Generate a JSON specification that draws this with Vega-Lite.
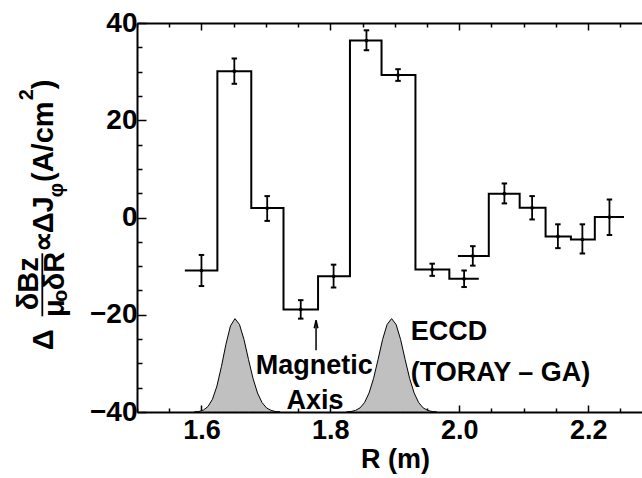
{
  "$schema": "https://vega.github.io/schema/vega-lite/v6.json",
  "width": 505,
  "height": 389,
  "autosize": {"type": "none"},
  "padding": {"left": 137, "top": 23, "right": 0, "bottom": 66},
  "config": {
    "view": {"stroke": null},
    "axis": {
      "grid": false,
      "domainColor": "black",
      "domainWidth": 2,
      "tickColor": "black",
      "tickWidth": 1.5,
      "labelColor": "black",
      "labelFont": "Liberation Sans",
      "labelFontWeight": "bold",
      "titleColor": "black",
      "titleFont": "Liberation Sans",
      "titleFontWeight": "bold"
    }
  },
  "datasets": {
    "eccd": [
      {"r": 1.589, "j": -40, "p": 1}, {"r": 1.596, "j": -39.9, "p": 1}, {"r": 1.603, "j": -39.6, "p": 1},
      {"r": 1.610, "j": -38.9, "p": 1}, {"r": 1.617, "j": -37.4, "p": 1}, {"r": 1.624, "j": -34.66, "p": 1},
      {"r": 1.631, "j": -30.65, "p": 1}, {"r": 1.638, "j": -26.06, "p": 1}, {"r": 1.645, "j": -22.3, "p": 1},
      {"r": 1.652, "j": -20.8, "p": 1}, {"r": 1.659, "j": -22.0, "p": 1}, {"r": 1.666, "j": -25.1, "p": 1},
      {"r": 1.673, "j": -29.2, "p": 1}, {"r": 1.680, "j": -33.1, "p": 1}, {"r": 1.687, "j": -36.1, "p": 1},
      {"r": 1.694, "j": -38.06, "p": 1}, {"r": 1.701, "j": -39.16, "p": 1}, {"r": 1.708, "j": -39.67, "p": 1},
      {"r": 1.715, "j": -39.9, "p": 1}, {"r": 1.722, "j": -40, "p": 1},
      {"r": 1.825, "j": -40, "p": 2}, {"r": 1.832, "j": -39.9, "p": 2}, {"r": 1.839, "j": -39.67, "p": 2},
      {"r": 1.846, "j": -39.16, "p": 2}, {"r": 1.853, "j": -38.06, "p": 2}, {"r": 1.860, "j": -36.1, "p": 2},
      {"r": 1.867, "j": -33.1, "p": 2}, {"r": 1.874, "j": -29.2, "p": 2}, {"r": 1.881, "j": -25.1, "p": 2},
      {"r": 1.888, "j": -22.0, "p": 2}, {"r": 1.895, "j": -20.8, "p": 2}, {"r": 1.902, "j": -22.0, "p": 2},
      {"r": 1.909, "j": -25.1, "p": 2}, {"r": 1.916, "j": -29.2, "p": 2}, {"r": 1.923, "j": -33.1, "p": 2},
      {"r": 1.930, "j": -36.1, "p": 2}, {"r": 1.937, "j": -38.06, "p": 2}, {"r": 1.944, "j": -39.16, "p": 2},
      {"r": 1.951, "j": -39.67, "p": 2}, {"r": 1.958, "j": -39.9, "p": 2}, {"r": 1.965, "j": -40, "p": 2}
    ],
    "steps": [
      {"r": 1.5742, "j": -10.9, "s": 1}, {"r": 1.6247, "j": 30.1, "s": 1}, {"r": 1.6773, "j": 1.95, "s": 1},
      {"r": 1.7273, "j": -18.9, "s": 1}, {"r": 1.7809, "j": -12.1, "s": 1}, {"r": 1.8304, "j": 36.4, "s": 1},
      {"r": 1.8794, "j": 29.3, "s": 1}, {"r": 1.9320, "j": -10.7, "s": 1}, {"r": 1.9846, "j": -12.6, "s": 1},
      {"r": 2.0303, "j": -12.6, "s": 1},
      {"r": 1.9979, "j": -7.9, "s": 2}, {"r": 2.0458, "j": 4.9, "s": 2}, {"r": 2.0937, "j": 2.0, "s": 2},
      {"r": 2.1339, "j": -3.9, "s": 2}, {"r": 2.1732, "j": -4.5, "s": 2}, {"r": 2.2103, "j": 0.1, "s": 2},
      {"r": 2.2556, "j": 0.1, "s": 2}
    ],
    "pts": [
      {"r": 1.600, "j": -10.9, "lo": -14.1, "hi": -7.7},
      {"r": 1.651, "j": 30.1, "lo": 27.5, "hi": 32.7},
      {"r": 1.702, "j": 1.95, "lo": -0.7, "hi": 4.4},
      {"r": 1.754, "j": -18.9, "lo": -20.8, "hi": -17.0},
      {"r": 1.805, "j": -12.1, "lo": -14.4, "hi": -9.7},
      {"r": 1.856, "j": 36.4, "lo": 34.4, "hi": 38.5},
      {"r": 1.905, "j": 29.3, "lo": 28.1, "hi": 30.5},
      {"r": 1.958, "j": -10.7, "lo": -12.0, "hi": -9.5},
      {"r": 2.0075, "j": -12.6, "lo": -14.3, "hi": -10.9},
      {"r": 2.021, "j": -7.9, "lo": -9.9, "hi": -5.9},
      {"r": 2.070, "j": 4.9, "lo": 2.9, "hi": 7.0},
      {"r": 2.113, "j": 2.0, "lo": -0.4, "hi": 4.4},
      {"r": 2.153, "j": -3.9, "lo": -6.3, "hi": -1.4},
      {"r": 2.191, "j": -4.5, "lo": -7.4, "hi": -1.4},
      {"r": 2.233, "j": 0.1, "lo": -3.6, "hi": 3.7}
    ]
  },
  "resolve": {"axis": {"x": "independent", "y": "independent"}},
  "layer": [
    {
      "data": {"name": "eccd"},
      "mark": {"type": "area", "fill": "#c0c0c0", "stroke": "black", "strokeWidth": 1, "fillOpacity": 1},
      "encoding": {
        "x": {
          "field": "r", "type": "quantitative",
          "scale": {"domain": [1.5, 2.2835], "nice": false, "zero": false},
          "axis": {
            "orient": "bottom",
            "values": [1.5, 1.55, 1.6, 1.65, 1.7, 1.75, 1.8, 1.85, 1.9, 1.95, 2.0, 2.05, 2.1, 2.15, 2.2, 2.25],
            "labelExpr": "abs(datum.value*5 - round(datum.value*5)) < 0.001 ? format(datum.value, '.1f') : ''",
            "tickSize": {"condition": {"test": "abs(datum.value*5 - round(datum.value*5)) < 0.001", "value": -7}, "value": -4},
            "labelFontSize": 27,
            "labelPadding": 12,
            "title": "R (m)",
            "titleFontSize": 27,
            "titleX": 258,
            "titleY": 55,
            "titleBaseline": "alphabetic",
            "titleAlign": "center"
          }
        },
        "y": {
          "field": "j", "type": "quantitative",
          "scale": {"domain": [-40, 40], "nice": false, "zero": false},
          "axis": {
            "orient": "left",
            "values": [-40, -35, -30, -25, -20, -15, -10, -5, 0, 5, 10, 15, 20, 25, 30, 35, 40],
            "labelExpr": "datum.value % 20 == 0 ? datum.label : ''",
            "tickSize": {"condition": {"test": "datum.value % 20 == 0", "value": -9}, "value": -5},
            "labelFontSize": 28,
            "labelPadding": 9,
            "title": null
          }
        },
        "y2": {"datum": -40},
        "detail": {"field": "p"}
      }
    },
    {
      "data": {"name": "steps"},
      "mark": {"type": "line", "interpolate": "step-after", "stroke": "black", "strokeWidth": 2},
      "encoding": {
        "x": {
          "field": "r", "type": "quantitative",
          "scale": {"domain": [1.5, 2.2835], "nice": false, "zero": false},
          "axis": {
            "orient": "top",
            "values": [1.5, 1.55, 1.6, 1.65, 1.7, 1.75, 1.8, 1.85, 1.9, 1.95, 2.0, 2.05, 2.1, 2.15, 2.2, 2.25],
            "labels": false,
            "tickSize": {"condition": {"test": "abs(datum.value*5 - round(datum.value*5)) < 0.001", "value": -7}, "value": -4},
            "title": null
          }
        },
        "y": {"field": "j", "type": "quantitative", "scale": {"domain": [-40, 40], "nice": false, "zero": false}, "axis": null},
        "detail": {"field": "s"}
      }
    },
    {
      "data": {"name": "pts"},
      "mark": {"type": "rule", "stroke": "black", "strokeWidth": 1.8},
      "encoding": {
        "x": {"field": "r", "type": "quantitative", "scale": {"domain": [1.5, 2.2835], "nice": false, "zero": false}, "axis": null},
        "y": {"field": "lo", "type": "quantitative", "scale": {"domain": [-40, 40], "nice": false, "zero": false}, "axis": null},
        "y2": {"field": "hi"}
      }
    },
    {
      "data": {"name": "pts"},
      "mark": {"type": "point", "shape": "M-1,0L1,0", "filled": false, "stroke": "black", "strokeWidth": 2, "size": 30, "opacity": 1},
      "encoding": {
        "x": {"field": "r", "type": "quantitative", "scale": {"domain": [1.5, 2.2835], "nice": false, "zero": false}, "axis": null},
        "y": {"field": "lo", "type": "quantitative", "scale": {"domain": [-40, 40], "nice": false, "zero": false}, "axis": null}
      }
    },
    {
      "data": {"name": "pts"},
      "mark": {"type": "point", "shape": "M-1,0L1,0", "filled": false, "stroke": "black", "strokeWidth": 2, "size": 30, "opacity": 1},
      "encoding": {
        "x": {"field": "r", "type": "quantitative", "scale": {"domain": [1.5, 2.2835], "nice": false, "zero": false}, "axis": null},
        "y": {"field": "hi", "type": "quantitative", "scale": {"domain": [-40, 40], "nice": false, "zero": false}, "axis": null}
      }
    },
    {
      "data": {"name": "pts"},
      "mark": {"type": "point", "shape": "circle", "filled": true, "fill": "black", "size": 14, "opacity": 1},
      "encoding": {
        "x": {"field": "r", "type": "quantitative", "scale": {"domain": [1.5, 2.2835], "nice": false, "zero": false}, "axis": null},
        "y": {"field": "j", "type": "quantitative", "scale": {"domain": [-40, 40], "nice": false, "zero": false}, "axis": null}
      }
    },
    {
      "data": {"values": [{"r": 1.7778, "j1": -27.3, "j2": -21.5}]},
      "mark": {"type": "rule", "stroke": "black", "strokeWidth": 1.5},
      "encoding": {
        "x": {"field": "r", "type": "quantitative", "scale": {"domain": [1.5, 2.2835], "nice": false, "zero": false}, "axis": null},
        "y": {"field": "j1", "type": "quantitative", "scale": {"domain": [-40, 40], "nice": false, "zero": false}, "axis": null},
        "y2": {"field": "j2"}
      }
    },
    {
      "data": {"values": [{"r": 1.7778, "j": -21.96}]},
      "mark": {"type": "point", "shape": "M-0.45,1L0,-1L0.45,1", "filled": false, "stroke": "black", "strokeWidth": 1.5, "size": 64, "opacity": 1},
      "encoding": {
        "x": {"field": "r", "type": "quantitative", "scale": {"domain": [1.5, 2.2835], "nice": false, "zero": false}, "axis": null},
        "y": {"field": "j", "type": "quantitative", "scale": {"domain": [-40, 40], "nice": false, "zero": false}, "axis": null}
      }
    },
    {
      "data": {"values": [
        {"r": 1.7752, "j": -32.1, "t": "Magnetic"},
        {"r": 1.776, "j": -39.4, "t": "Axis"}
      ]},
      "mark": {"type": "text", "font": "Liberation Sans", "fontWeight": "bold", "fontSize": 27, "align": "center", "baseline": "alphabetic", "fill": "black"},
      "encoding": {
        "x": {"field": "r", "type": "quantitative", "scale": {"domain": [1.5, 2.2835], "nice": false, "zero": false}, "axis": null},
        "y": {"field": "j", "type": "quantitative", "scale": {"domain": [-40, 40], "nice": false, "zero": false}, "axis": null},
        "text": {"field": "t"}
      }
    },
    {
      "data": {"values": [
        {"r": 1.9247, "j": -25.1, "t": "ECCD"},
        {"r": 1.9247, "j": -33.6, "t": "(TORAY – GA)"}
      ]},
      "mark": {"type": "text", "font": "Liberation Sans", "fontWeight": "bold", "fontSize": 27, "align": "left", "baseline": "alphabetic", "fill": "black"},
      "encoding": {
        "x": {"field": "r", "type": "quantitative", "scale": {"domain": [1.5, 2.2835], "nice": false, "zero": false}, "axis": null},
        "y": {"field": "j", "type": "quantitative", "scale": {"domain": [-40, 40], "nice": false, "zero": false}, "axis": null},
        "text": {"field": "t"}
      }
    },
    {
      "data": {"values": [
        {"r": 1.369, "j": -27.3, "t": "Δ"},
        {"r": 1.369, "j": -7.16, "t": "∝"},
        {"r": 1.369, "j": -3.25, "t": "ΔJ"},
        {"r": 1.369, "j": 7.3, "t": "(A/cm"},
        {"r": 1.369, "j": 26.36, "t": ")"},
        {"r": 1.3458, "j": -19.08, "t": "δBz"},
        {"r": 1.3868, "j": -20.46, "t": "μ"},
        {"r": 1.3868, "j": -14.97, "t": "δR"}
      ]},
      "mark": {"type": "text", "font": "Liberation Sans", "fontWeight": "bold", "fontSize": 29, "angle": 270, "align": "left", "baseline": "alphabetic", "fill": "black"},
      "encoding": {
        "x": {"field": "r", "type": "quantitative", "scale": {"domain": [1.5, 2.2835], "nice": false, "zero": false}, "axis": null},
        "y": {"field": "j", "type": "quantitative", "scale": {"domain": [-40, 40], "nice": false, "zero": false}, "axis": null},
        "text": {"field": "t"}
      }
    },
    {
      "data": {"values": [
        {"r": 1.3918, "j": -17.38, "t": "o"},
        {"r": 1.385, "j": 4.15, "t": "φ"},
        {"r": 1.3381, "j": 24.1, "t": "2"}
      ]},
      "mark": {"type": "text", "font": "Liberation Sans", "fontWeight": "bold", "fontSize": 20, "angle": 270, "align": "left", "baseline": "alphabetic", "fill": "black"},
      "encoding": {
        "x": {"field": "r", "type": "quantitative", "scale": {"domain": [1.5, 2.2835], "nice": false, "zero": false}, "axis": null},
        "y": {"field": "j", "type": "quantitative", "scale": {"domain": [-40, 40], "nice": false, "zero": false}, "axis": null},
        "text": {"field": "t"}
      }
    },
    {
      "data": {"values": [{"r": 1.3531, "j1": -7.36, "j2": -20.32}]},
      "mark": {"type": "rule", "stroke": "black", "strokeWidth": 1.8},
      "encoding": {
        "x": {"field": "r", "type": "quantitative", "scale": {"domain": [1.5, 2.2835], "nice": false, "zero": false}, "axis": null},
        "y": {"field": "j1", "type": "quantitative", "scale": {"domain": [-40, 40], "nice": false, "zero": false}, "axis": null},
        "y2": {"field": "j2"}
      }
    }
  ]
}
